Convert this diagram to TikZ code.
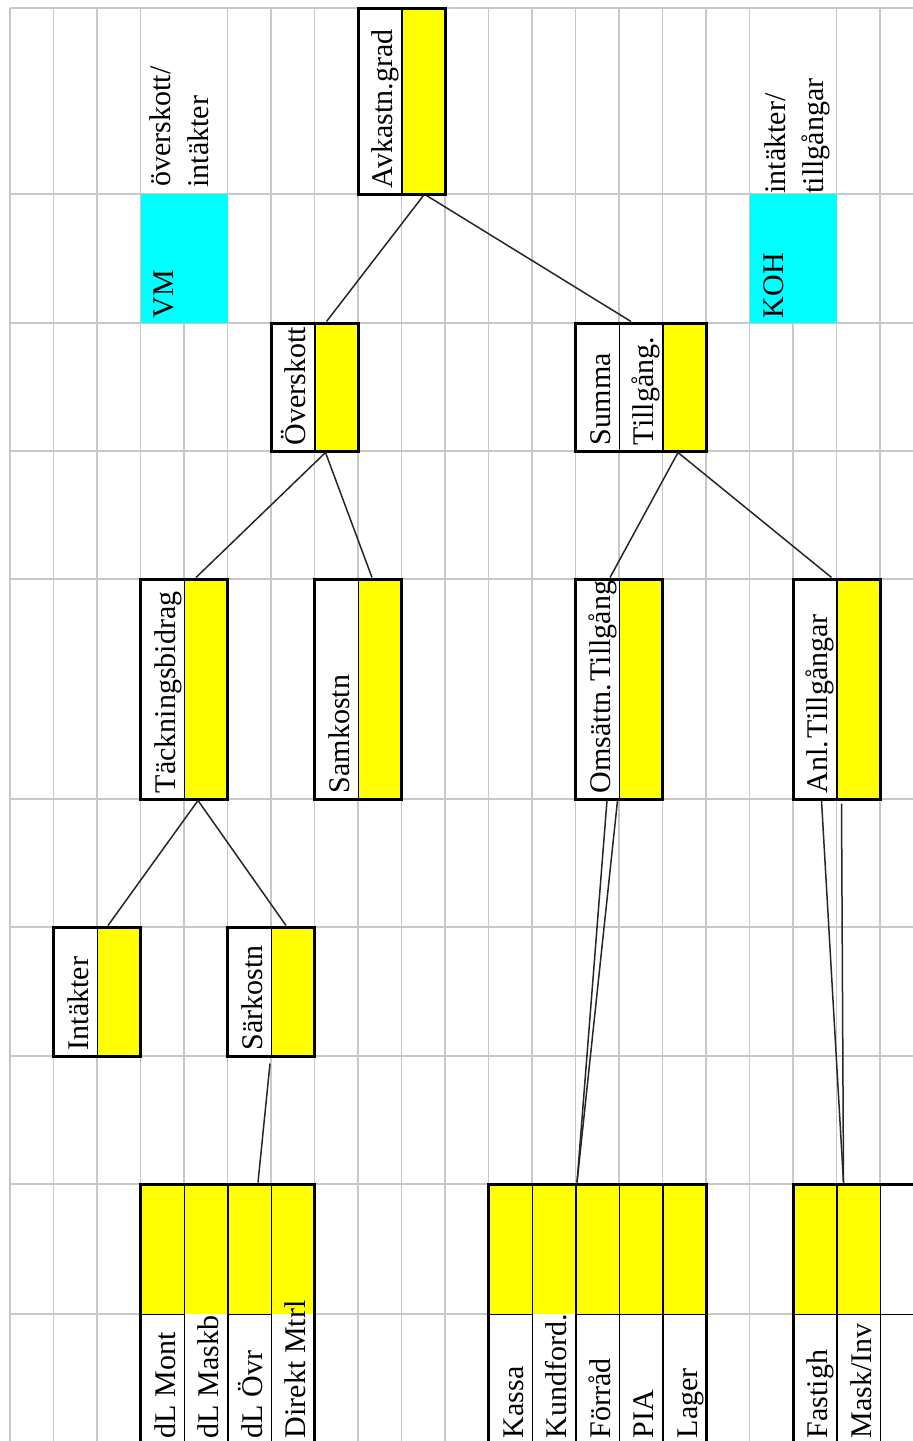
\documentclass[tikz,border=0pt]{standalone}
\usepackage{fontspec}
\setmainfont{Liberation Serif}
\usetikzlibrary{calc,fit,positioning}
\definecolor{gridgray}{RGB}{200,200,200}
\definecolor{celly}{RGB}{255,255,0}
\definecolor{cellc}{RGB}{0,255,255}
\tikzset{gridline/.style={draw=gridgray, line width=0.8pt},
         wcell/.style={fill=white, inner sep=0pt},
         ycell/.style={fill=celly, inner sep=0pt},
         keycell/.style={fill=cellc, inner sep=0pt},
         colcell/.style={inner sep=0pt},
         boxframe/.style={draw, line width=1.5pt, inner sep=0pt},
         splitline/.style={line width=0.7pt},
         link/.style={draw=black!85, line width=0.75pt},
         lbl/.style={rotate=90, anchor=base west, inner sep=0pt,
                     font=\fontsize{15pt}{18pt}\selectfont}}
% name, left edge, top, bottom, label
\newcommand{\valbox}[5]{%
  \node[ycell, fit={({#2+43.5},#3) ({#2+87},#4)}] (#1-y) {};
  \node[wcell, fit={(#2,#3) ({#2+43.5},#4)}] (#1-w) {};
  \draw[splitline] (#1-w.north east) -- (#1-w.south east);
  \node[boxframe, fit={(#2,#3) ({#2+87},#4)}] (#1) {};
  \node[lbl] (#1-t) at ([shift={(-9,-6)}]#1-w.south east) {#5};}

\begin{document}
\begin{tikzpicture}[x=0.5pt, y=-0.5pt]
\useasboundingbox (0,0) rectangle (913,1441);
\clip (0,0) rectangle (913,1441);
% sheet grid
\foreach \i in {0,...,20}
  \draw[gridline] ({10+43.5*\i},8) -- ({10+43.5*\i},1441);
\foreach \r in {8,194,323,451,579,799,927,1056,1184,1314}
  \draw[gridline] (10,\r) -- (913,\r);

% key figures
\node[wcell, fit={(141.5,9) (226.5,193)}] (vmnote) {};
\node[lbl] (vmnote-a) at (170,187) {överskott/};
\node[lbl] (vmnote-b) at (208,188) {intäkter};
\node[keycell, fit={(140.5,194) (227.5,323)}] (vm) {};
\node[lbl] (vm-t) at ([shift={(-11,-5)}]vm.south) {VM};
\node[wcell, fit={(750.5,9) (835.5,193)}] (kohnote) {};
\node[lbl] (kohnote-a) at (785,194) {intäkter/};
\node[lbl] (kohnote-b) at (823,194) {tillgångar};
\node[keycell, fit={(749.5,194) (836.5,323)}] (koh) {};
\node[lbl] (koh-t) at ([shift={(-10,-5)}]koh.south) {KOH};

% tree
\valbox{avk}{358}{8}{194}{Avkastn.grad}
\valbox{ovs}{271}{323}{451}{Överskott}
\node[ycell, fit={(662.5,323) (706,451)}] (sum-y) {};
\node[wcell, fit={(575.5,323) (619,451)}] (sum-a) {};
\node[wcell, fit={(619,323) (662.5,451)}] (sum-b) {};
\draw[splitline] (sum-a.north east) -- (sum-a.south east);
\draw[splitline] (sum-b.north east) -- (sum-b.south east);
\node[boxframe, fit={(575.5,323) (706,451)}] (sum) {};
\node[lbl] (sum-a-t) at ([shift={(-9,-6)}]sum-a.south east) {Summa};
\node[lbl] (sum-b-t) at ([shift={(-9,-6)}]sum-b.south east) {Tillgång.};
\valbox{tack}{140.5}{579}{799}{Täckningsbidrag}
\valbox{samk}{314.5}{579}{799}{Samkostn}
\valbox{oms}{575.5}{579}{799}{Omsättn.\hspace{0.08em}Tillgång}
\valbox{anl}{793}{579}{799}{Anl.\hspace{0.08em}Tillgångar}
\valbox{intk}{53.5}{927}{1056}{Intäkter}
\valbox{sark}{227.5}{927}{1056}{Särkostn}

% accounts
\node[wcell, fit={(140.5,1184) (314.5,1444)}] (dl-w) {};
\node[ycell, fit={(140.5,1184) (314.5,1314)}] (dl-y) {};
\foreach \lab/\sep [count=\i from 0] in {dL Mont/1, dL Maskb/0, dL Övr/1, Direkt Mtrl/0} {
  \node[colcell, fit={({140.5+43.5*\i},1184) ({184+43.5*\i},1444)}] (dl-\i) {};
  \draw[splitline] (dl-\i.north east) -- (dl-\i.south east);
  \ifnum\sep=1 \draw[splitline] (dl-\i.west |- dl-y.south) -- (dl-\i.east |- dl-y.south);\fi
  \node[lbl] (dl-\i-t) at ([shift={(-9,-6)}]dl-\i.south east) {\lab};
}
\node[boxframe, fit={(140.5,1184) (314.5,1444)}] (dl) {};

\node[wcell, fit={(488.5,1184) (706,1444)}] (kas-w) {};
\node[ycell, fit={(488.5,1184) (706,1314)}] (kas-y) {};
\foreach \lab/\sep [count=\i from 0] in {Kassa/1, Kundford./0, Förråd/1, PIA/1, Lager/1} {
  \node[colcell, fit={({488.5+43.5*\i},1184) ({532+43.5*\i},1444)}] (kas-\i) {};
  \draw[splitline] (kas-\i.north east) -- (kas-\i.south east);
  \ifnum\sep=1 \draw[splitline] (kas-\i.west |- kas-y.south) -- (kas-\i.east |- kas-y.south);\fi
  \node[lbl] (kas-\i-t) at ([shift={(-9,-6)}]kas-\i.south east) {\lab};
}
\node[boxframe, fit={(488.5,1184) (706,1444)}] (kas) {};

\node[wcell, fit={(793,1184) (923.5,1444)}] (fa-w) {};
\node[ycell, fit={(793,1184) (880,1314)}] (fa-y) {};
\foreach \lab [count=\i from 0] in {Fastigh, {Mask/Inv}} {
  \node[colcell, fit={({793+43.5*\i},1184) ({836.5+43.5*\i},1444)}] (fa-\i) {};
  \draw[splitline] (fa-\i.north east) -- (fa-\i.south east);
  \draw[splitline] (fa-\i.west |- fa-y.south) -- (fa-\i.east |- fa-y.south);
  \node[lbl] (fa-\i-t) at ([shift={(-9,-6)}]fa-\i.south east) {\lab};
}
\node[colcell, fit={(880,1184) (923.5,1444)}] (fa-2) {};
\draw[splitline] (fa-2.west |- fa-y.south) -- (fa-2.east |- fa-y.south);
\node[boxframe, fit={(793,1184) (923.5,1444)}] (fa) {};

% links
\draw[link] ($(avk.south west)+(67,0)$) -- ($(ovs.north west)+(57,0)$);
\draw[link] ($(avk.south west)+(70,0)$) -- ($(sum.north west)+(57,0)$);
\draw[link] ($(ovs.south west)+(56,0)$) -- ($(tack.north west)+(57,0)$);
\draw[link] ($(ovs.south west)+(56,0)$) -- ($(samk.north west)+(59,0)$);
\draw[link] ($(sum.south west)+(104,0)$) -- ($(oms.north west)+(36,0)$);
\draw[link] ($(sum.south west)+(104,0)$) -- ($(anl.north west)+(40,0)$);
\draw[link] ($(tack.south west)+(59,0)$) -- ($(intk.north west)+(56,0)$);
\draw[link] ($(tack.south west)+(59,0)$) -- ($(sark.north west)+(60,0)$);
\draw[link] ($(sark.south west)+(44,6)$) -- ($(dl.north west)+(119,0)$);
\draw[link] ($(oms.south west)+(33,0)$) -- ($(kas.north west)+(90,0)$);
\draw[link] ($(oms.south west)+(43.5,0)$) -- ($(kas.north west)+(90,0)$);
\draw[link] ($(anl.south west)+(30,0)$) -- ($(fa.north west)+(52,0)$);
\draw[link] ($(anl.south west)+(50,3)$) -- ($(fa.north west)+(52,0)$);
\end{tikzpicture}
\end{document}
